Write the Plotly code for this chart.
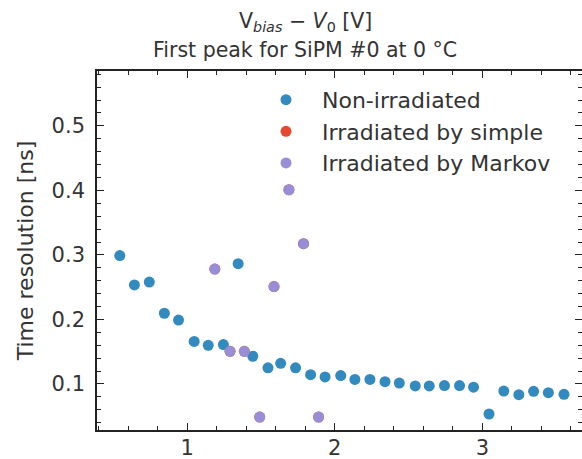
import plotly.graph_objects as go

# Non-irradiated
x_non = [0.543, 0.642, 0.743, 0.845, 0.941, 1.047, 1.142, 1.245, 1.345, 1.444,
         1.547, 1.633, 1.734, 1.836, 1.934, 2.04, 2.136, 2.238, 2.34, 2.437,
         2.545, 2.64, 2.743, 2.845, 2.94, 3.045, 3.145, 3.247, 3.347, 3.447, 3.553]
y_non = [0.299, 0.2535, 0.258, 0.2096, 0.199, 0.166, 0.160, 0.161, 0.2865, 0.143,
         0.125, 0.132, 0.125, 0.1145, 0.111, 0.113, 0.107, 0.107, 0.1035, 0.1015,
         0.097, 0.097, 0.0975, 0.0975, 0.095, 0.0535, 0.089, 0.0835, 0.0887, 0.0865, 0.084]

# Irradiated by simple (fully hidden beneath the Markov points)
x_simple = [1.187, 1.29, 1.387, 1.491, 1.588, 1.689, 1.788, 1.89]
y_simple = [0.278, 0.1507, 0.1507, 0.0488, 0.251, 0.401, 0.3175, 0.0488]

# Irradiated by Markov
x_markov = [1.187, 1.29, 1.387, 1.491, 1.588, 1.689, 1.788, 1.89]
y_markov = [0.278, 0.1507, 0.1507, 0.0488, 0.251, 0.401, 0.3175, 0.0488]

x_range = [0.3885, 3.675]
y_range = [0.0287, 0.585]

title_line1 = "V<sub><i>bias</i></sub> − <i>V</i><sub>0</sub> [V]"
title_line2 = "First peak for SiPM #0 at 0 °C"

FONT = "DejaVu Sans"
TXT = "#333333"

fig = go.Figure()
fig.add_trace(go.Scatter(x=x_non, y=y_non, mode="markers", name="Non-irradiated",
                         marker=dict(color="#348ABD", size=11, line=dict(width=0))))
fig.add_trace(go.Scatter(x=x_simple, y=y_simple, mode="markers", name="Irradiated by simple",
                         marker=dict(color="#E24A33", size=11, line=dict(width=0))))
fig.add_trace(go.Scatter(x=x_markov, y=y_markov, mode="markers", name="Irradiated by Markov",
                         marker=dict(color="#988ED5", size=11, line=dict(width=0))))

axis_common = dict(
    showgrid=False, zeroline=False, showline=True, linecolor="#222222", linewidth=1.6,
    mirror="allticks", ticks="inside", ticklen=7, tickwidth=1.3, tickcolor="#222222",
    tickfont=dict(family=FONT, size=21, color=TXT), automargin=False,
)

fig.update_xaxes(range=x_range, tickvals=[1, 2, 3], ticktext=["1", "2", "3"],
                 ticklabelstandoff=-2,
                 minor=dict(dtick=0.2, tick0=0, ticks="inside", ticklen=4, tickcolor="#222222", tickwidth=1.1),
                 **axis_common)
fig.update_yaxes(range=y_range, tickvals=[0.1, 0.2, 0.3, 0.4, 0.5],
                 ticktext=["0.1", "0.2", "0.3", "0.4", "0.5"],
                 ticklabelstandoff=6,
                 minor=dict(dtick=0.02, tick0=0, ticks="inside", ticklen=4, tickcolor="#222222", tickwidth=1.1),
                 title=dict(text="Time resolution [ns]", font=dict(family=FONT, size=22, color=TXT), standoff=12),
                 **axis_common)

fig.add_annotation(text=title_line1, xref="paper", yref="paper", x=(305 - 97) / 485, y=(430 - 22) / 359,
                   xanchor="center", yanchor="middle", showarrow=False,
                   font=dict(family=FONT, size=20.5, color=TXT))
fig.add_annotation(text=title_line2, xref="paper", yref="paper", x=(305 - 97) / 485, y=(430 - 50) / 359,
                   xanchor="center", yanchor="middle", showarrow=False,
                   font=dict(family=FONT, size=20.5, color=TXT))

fig.update_layout(
    width=582, height=459,
    margin=dict(l=97, r=0, t=71, b=29, autoexpand=False),
    paper_bgcolor="white", plot_bgcolor="white",
    legend=dict(x=(250 - 97) / 485, y=0.978, xanchor="left", yanchor="top", bgcolor="rgba(0,0,0,0)",
                font=dict(family=FONT, size=22, color=TXT), itemwidth=62),
    showlegend=True,
)

fig.write_html("out.html")
